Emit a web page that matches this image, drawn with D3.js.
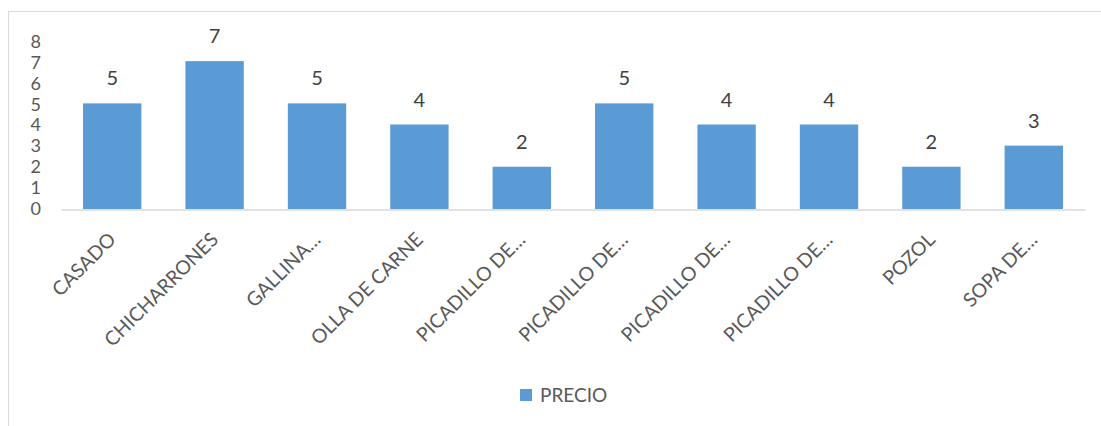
<!DOCTYPE html>
<html>
<head>
<meta charset="utf-8">
<script src="https://cdn.jsdelivr.net/npm/d3@7"></script>
<style>
  html, body { margin: 0; padding: 0; background: #fff; }
  svg { display: block; font-family: Lato, "Open Sans", sans-serif; }
</style>
</head>
<body>
<svg id="chart" width="1101" height="426"></svg>
<script>
const categories = ["CASADO", "CHICHARRONES", "GALLINA…", "OLLA DE CARNE", "PICADILLO DE…", "PICADILLO DE…", "PICADILLO DE…", "PICADILLO DE…", "POZOL", "SOPA DE…"];
const precio = [5, 7, 5, 4, 2, 5, 4, 4, 2, 3];
const yTicks = [0, 1, 2, 3, 4, 5, 6, 7, 8];
const seriesName = "PRECIO";

const svg = d3.select("#chart");
const textColor = "#595959";
const barColor = "#5B9BD5";

// chart frame
svg.append("rect").attr("x", 8.5).attr("y", 11.5).attr("width", 1200).attr("height", 500)
  .attr("fill", "none").attr("stroke", "#d9d9d9").attr("stroke-width", 1);

const idx = categories.map((d, i) => i);
const x = d3.scaleBand().domain(idx).range([61, 1085]).paddingInner(0.43).paddingOuter(0.215);
const y = d3.scaleLinear().domain([0, 8]).range([209, 40]);

// bars
svg.append("g").selectAll("rect").data(precio).join("rect")
  .attr("x", (d, i) => x(i))
  .attr("y", d => y(d))
  .attr("width", x.bandwidth())
  .attr("height", d => y(0) - y(d))
  .attr("fill", barColor);

// data labels
svg.append("g").selectAll("text").data(precio).join("text")
  .attr("x", (d, i) => x(i) + x.bandwidth() / 2)
  .attr("y", d => y(d) - 18)
  .attr("text-anchor", "middle")
  .attr("fill", "#404040")
  .style("font-size", "20px")
  .text(d => d);

// x axis line
const xAxis = d3.axisBottom(x).tickSize(0).tickFormat("");
const gx = svg.append("g").attr("transform", `translate(0,${y(0) + 0.5})`).call(xAxis);
gx.select(".domain").attr("stroke", "#d9d9d9").attr("stroke-width", 1.5);

// x labels rotated
svg.append("g").selectAll("text").data(categories).join("text")
  .attr("transform", (d, i) => `translate(${x(i) + x.bandwidth() / 2},236) rotate(-45)`)
  .attr("text-anchor", "end")
  .attr("dy", "0.35em")
  .attr("fill", textColor)
  .style("font-size", "19.5px")
  .text(d => d);

// y axis labels
const yAxis = d3.axisLeft(y).tickValues(yTicks).tickSize(0).tickPadding(0).tickFormat(d3.format("d"));
const gy = svg.append("g").attr("transform", "translate(41,0)").call(yAxis);
gy.select(".domain").remove();
gy.selectAll("text").attr("fill", textColor).style("font-size", "18px")
  .style("font-family", "Lato, 'Open Sans', sans-serif")
  .attr("dy", "0.36em")
  .attr("y", d => (d - 4) * 0.3);

// legend
const lg = svg.append("g").attr("transform", "translate(520,389)");
lg.append("rect").attr("width", 12).attr("height", 12).attr("fill", barColor);
lg.append("text").attr("x", 20).attr("y", 6).attr("dy", "0.36em")
  .attr("fill", textColor).style("font-size", "19px").text(seriesName);
</script>
</body>
</html>
